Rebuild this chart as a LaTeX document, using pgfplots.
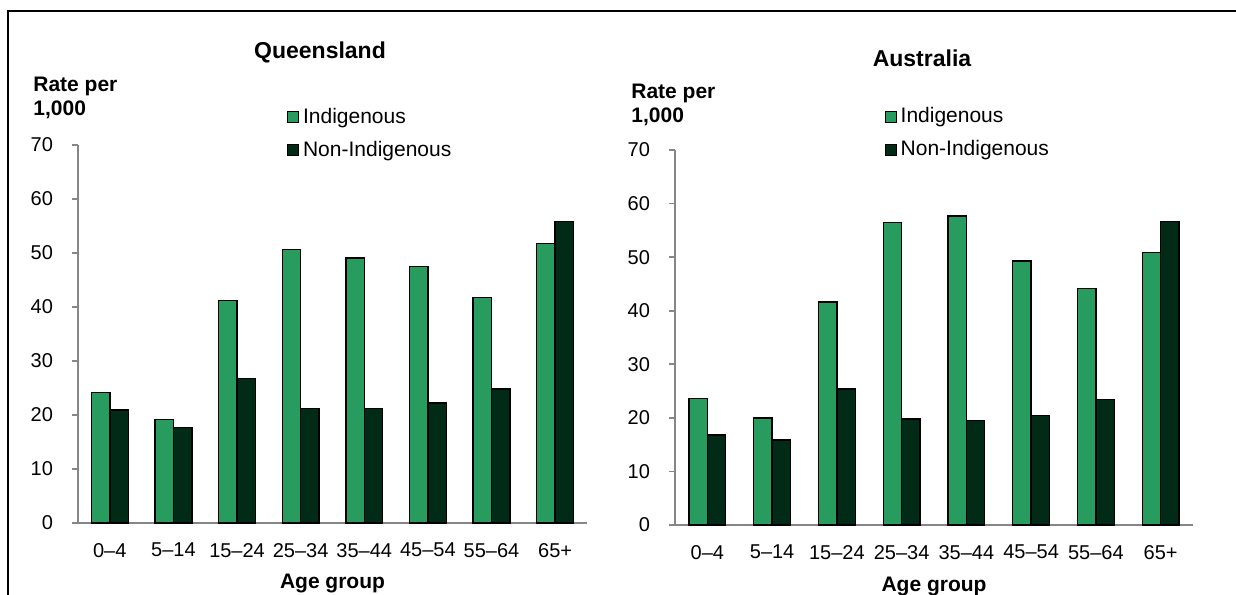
\documentclass[border=0pt]{standalone}
\usepackage{fontspec}
\setmainfont{Liberation Sans}
\usepackage{pgfplots}
\pgfplotsset{compat=1.18}

\definecolor{indig}{RGB}{39,156,94}
\definecolor{nonind}{RGB}{2,43,23}
\definecolor{axgray}{RGB}{134,134,134}

\pgfplotsset{
  agechart/.style={
    scale only axis,
    ybar=0pt, bar width=9.2pt,
    xmin=-0.5, xmax=7.5, ymin=0, ymax=70,
    xtick={0,...,7},
    xticklabels={0–4,5–14,15–24,25–34,35–44,45–54,55–64,65+},
    ytick={0,10,...,70},
    axis x line*=bottom, axis y line*=left,
    axis line style={axgray, line width=1pt, -},
    xtick style={draw=none},
    ytick style={axgray, line width=0.9pt},
    tick align=outside, major tick length=3pt,
    tick label style={font=\fontsize{10}{12}\selectfont},
    /pgf/number format/assume math mode=true,
    xticklabel style={yshift=-3.5pt},
    yticklabel style={xshift=-6pt},
    legend style={draw=none, fill=none, inner sep=0pt, row sep=3.5pt,
      font=\fontsize{10.5}{12}\selectfont, anchor=west},
    legend cell align=left,
    clip=false,
  },
  sqleg/.style={legend image code/.code={
    \draw[##1, draw=black, line width=0.5pt] (0pt,-2.75pt) rectangle (5.5pt,2.75pt);}},
}

\begin{document}
\begin{tikzpicture}
\useasboundingbox (0,0) rectangle (618pt,297pt);
\draw[line width=1pt] (3.75pt,-1pt) -- (3.75pt,291.5pt) -- (620pt,291.5pt);

% Queensland
\begin{axis}[agechart, at={(39pt,35.5pt)}, anchor=south west,
  width=254.5pt, height=189pt,
  legend style={at={(0.41,1.03)}}]
\addplot[fill=indig, draw=black, line width=0.7pt, sqleg] coordinates
  {(0,24.2) (1,19.2) (2,41.2) (3,50.6) (4,49.1) (5,47.5) (6,41.8) (7,51.8)};
\addplot[fill=nonind, draw=black, line width=0.7pt, sqleg] coordinates
  {(0,20.9) (1,17.7) (2,26.8) (3,21.2) (4,21.2) (5,22.2) (6,24.8) (7,55.8)};
\legend{Indigenous,Non-Indigenous}
\end{axis}

% Australia
\begin{axis}[agechart, at={(337.5pt,34.5pt)}, anchor=south west,
  width=259pt, height=187.5pt,
  legend style={at={(0.404,1.045)}}]
\addplot[fill=indig, draw=black, line width=0.7pt, sqleg] coordinates
  {(0,23.6) (1,20.0) (2,41.6) (3,56.5) (4,57.7) (5,49.3) (6,44.2) (7,50.9)};
\addplot[fill=nonind, draw=black, line width=0.7pt, sqleg] coordinates
  {(0,16.8) (1,15.9) (2,25.4) (3,19.8) (4,19.5) (5,20.4) (6,23.4) (7,56.6)};
\legend{Indigenous,Non-Indigenous}
\end{axis}

\node[anchor=base, font=\bfseries\fontsize{11.5}{14}\selectfont] at (160pt,267.5pt) {Queensland};
\node[anchor=base, font=\bfseries\fontsize{11.5}{14}\selectfont] at (461pt,263.9pt) {Australia};
\begin{scope}[every node/.style={anchor=base west, inner sep=0pt, font=\bfseries\fontsize{10.5}{12}\selectfont}]
\node at (16.5pt,251pt) {Rate per};
\node at (16.5pt,239pt) {1,000};
\node at (315.5pt,247.5pt) {Rate per};
\node at (315.5pt,235.5pt) {1,000};
\end{scope}
\begin{scope}[every node/.style={anchor=base, inner sep=0pt, font=\bfseries\fontsize{10.5}{12}\selectfont}]
\node at (166.25pt,2.5pt) {Age group};
\node at (467pt,1.5pt) {Age group};
\end{scope}
\end{tikzpicture}
\end{document}
